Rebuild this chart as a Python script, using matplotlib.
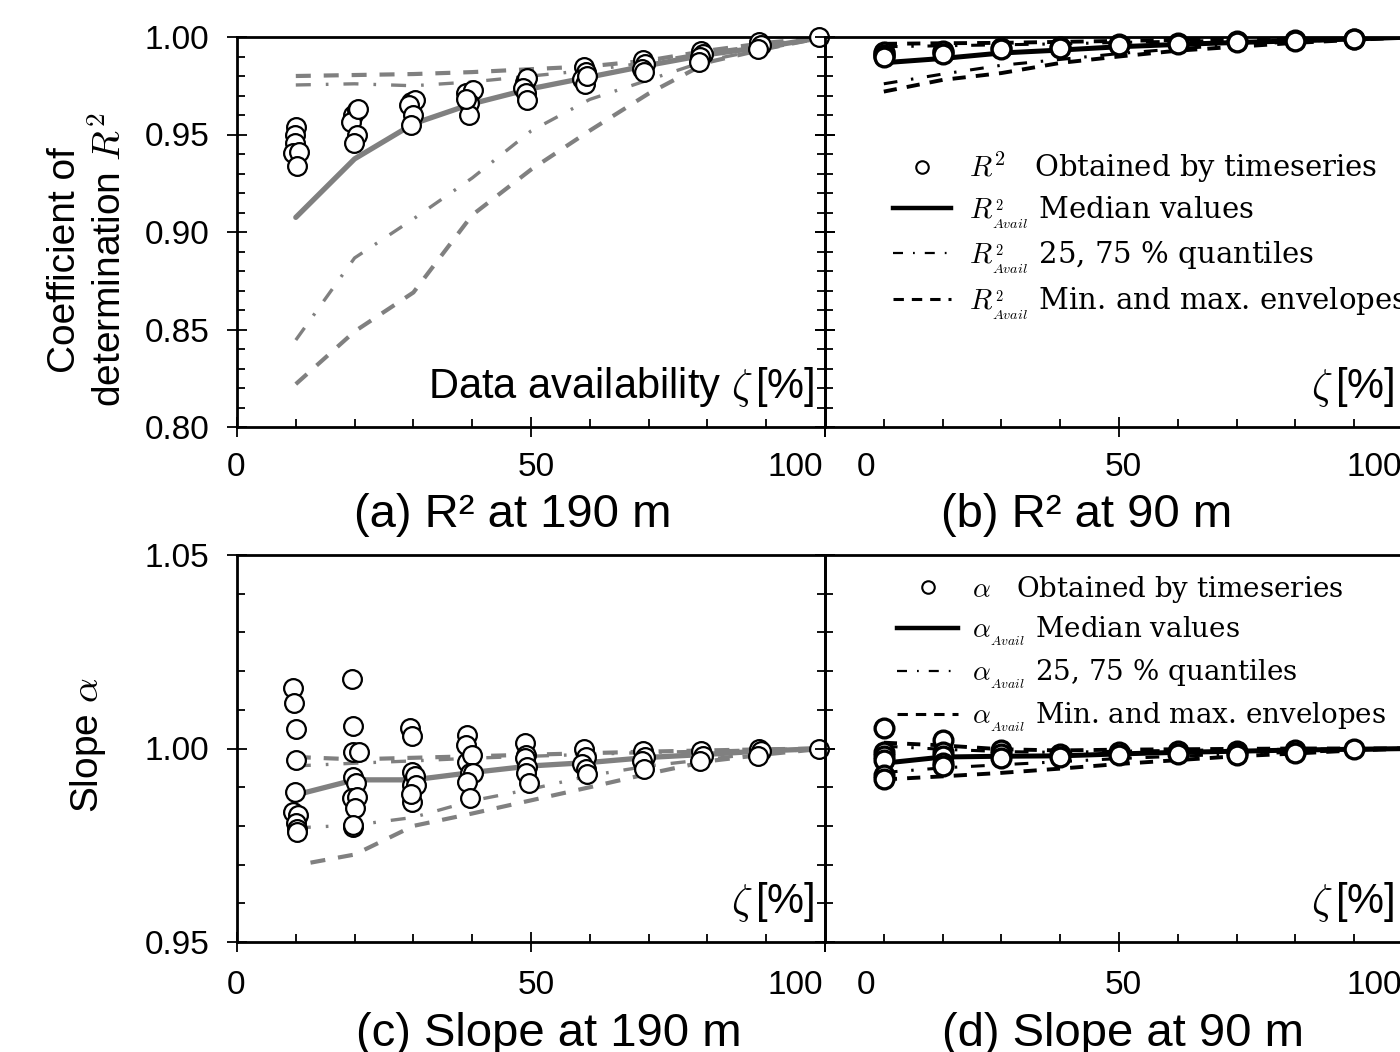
import matplotlib
matplotlib.use('Agg')
import matplotlib.pyplot as plt
from matplotlib.lines import Line2D
from matplotlib.ticker import MultipleLocator, FormatStrFormatter

plt.rcParams['font.family'] = ['Liberation Sans', 'DejaVu Sans']
plt.rcParams['mathtext.fontset'] = 'cm'

# ---------------- data ----------------
zeta = [10, 20, 30, 40, 50, 60, 70, 80, 90, 100]
x_ticklabels = ['0', '50', '100']

# (a) R2 at 190 m -- individual timeseries results
a_ts_x = [10.0, 9.8, 9.9, 9.5, 10.6, 10.2,
          19.8, 20.4, 19.4, 20.4, 19.9, 20.6,
          29.6, 30.2, 29.2, 29.9, 29.6,
          39.0, 40.2, 39.4, 39.5, 38.9,
          49.0, 49.4, 48.7, 49.2, 49.4,
          59.0, 59.4, 58.7, 59.2, 59.5,
          69.0, 69.4, 68.8, 69.2,
          78.9, 79.3, 78.7, 78.6,
          88.8, 89.1, 88.6,
          99.0]
a_ts_y = [0.9538, 0.9497, 0.9456, 0.9405, 0.9410, 0.9338,
          0.9600, 0.9626, 0.9564, 0.9497, 0.9456, 0.9630,
          0.9667, 0.9677, 0.9650, 0.9600, 0.9549,
          0.9713, 0.9728, 0.9660, 0.9600, 0.9680,
          0.9769, 0.9790, 0.9738, 0.9713, 0.9677,
          0.9846, 0.9820, 0.9786, 0.9760, 0.9800,
          0.9880, 0.9860, 0.9837, 0.9820,
          0.9930, 0.9914, 0.9897, 0.9870,
          0.9974, 0.9957, 0.9940,
          1.0000]
a_median = [0.9075, 0.9375, 0.9555, 0.9658, 0.9735, 0.9795, 0.9855, 0.9910, 0.9950, 1.0]
a_q25 = [0.8446, 0.8867, 0.9067, 0.9277, 0.9518, 0.9680, 0.9780, 0.9880, 0.9940, 1.0]
a_q75 = [0.9754, 0.9760, 0.9750, 0.9770, 0.9800, 0.9830, 0.9870, 0.9920, 0.9960, 1.0]
a_min = [0.8220, 0.8490, 0.8690, 0.9087, 0.9320, 0.9520, 0.9710, 0.9870, 0.9940, 1.0]
a_max = [0.9800, 0.9805, 0.9810, 0.9820, 0.9835, 0.9850, 0.9880, 0.9930, 0.9970, 1.0]

# (b) R2 at 90 m
b_ts_x = [10, 10, 10, 10, 10, 20, 20, 20, 30, 30, 40, 40, 50, 50,
          60, 60, 70, 70, 80, 80, 90, 90, 100]
b_ts_y = [0.9918, 0.9905, 0.9925, 0.9910, 0.9895, 0.9923, 0.9930, 0.9915,
          0.9945, 0.9938, 0.9950, 0.9945, 0.9965, 0.9960, 0.9970, 0.9966,
          0.9978, 0.9974, 0.9985, 0.9982, 0.9992, 0.9990, 1.0]
b_median = [0.9868, 0.9890, 0.9918, 0.9933, 0.9950, 0.9962, 0.9972, 0.9980, 0.9990, 1.0]
b_q25 = [0.9760, 0.9810, 0.9855, 0.9885, 0.9915, 0.9940, 0.9960, 0.9975, 0.9990, 1.0]
b_q75 = [0.9950, 0.9955, 0.9960, 0.9965, 0.9972, 0.9978, 0.9984, 0.9990, 0.9995, 1.0]
b_min = [0.9720, 0.9780, 0.9815, 0.9867, 0.9900, 0.9930, 0.9950, 0.9970, 0.9985, 1.0]
b_max = [0.9965, 0.9968, 0.9970, 0.9975, 0.9980, 0.9985, 0.9990, 0.9994, 0.9997, 1.0]

# (c) Slope at 190 m
c_ts_x = [9.6, 9.7, 10.0, 10.0, 9.9, 9.5, 10.3, 10.1, 10.2, 10.2,
          19.6, 19.8, 19.8, 20.7, 19.8, 20.3, 19.6, 20.4, 20.1, 19.7, 19.7,
          29.5, 29.7, 29.7, 29.7, 30.3, 29.7, 30.4, 29.6,
          39.2, 38.9, 39.2, 39.9, 39.6, 40.2, 39.2, 39.6,
          48.9, 49.2, 48.9, 49.4, 49.2, 49.7,
          59.0, 59.3, 58.7, 59.4, 59.6,
          69.0, 69.4, 68.8, 69.2,
          78.9, 79.3, 78.7,
          88.8, 89.1, 88.6,
          99.0]
c_ts_y = [1.0157, 1.0117, 1.0050, 0.9970, 0.9888, 0.9836, 0.9828, 0.9807, 0.9792, 0.9784,
          1.0180, 1.0058, 0.9991, 0.9990, 0.9926, 0.9910, 0.9872, 0.9875, 0.9846, 0.9797, 0.9803,
          1.0054, 1.0033, 0.9940, 0.9906, 0.9930, 0.9862, 0.9906, 0.9882,
          1.0035, 1.0009, 0.9965, 0.9983, 0.9936, 0.9936, 0.9914, 0.9872,
          1.0014, 0.9983, 0.9975, 0.9952, 0.9936, 0.9910,
          0.9998, 0.9977, 0.9960, 0.9947, 0.9934,
          0.9994, 0.9977, 0.9968, 0.9947,
          0.9994, 0.9981, 0.9968,
          1.0000, 0.9994, 0.9981,
          1.0000]
c_median = [0.9880, 0.9919, 0.9919, 0.9938, 0.9955, 0.9964, 0.9977, 0.9985, 0.9994, 1.0]
c_q25 = [0.9795, 0.9802, 0.9822, 0.9865, 0.9895, 0.9930, 0.9955, 0.9972, 0.9990, 1.0]
c_q75 = [0.9955, 0.9962, 0.9968, 0.9975, 0.9980, 0.9985, 0.9990, 0.9993, 0.9997, 1.0]
c_min_x = [12.5, 20, 30, 40, 50, 60, 70, 80, 90, 100]
c_min = [0.9705, 0.9726, 0.9800, 0.9832, 0.9866, 0.9900, 0.9935, 0.9967, 0.9985, 1.0]
c_max = [0.9978, 0.9972, 0.9976, 0.9980, 0.9984, 0.9988, 0.9992, 0.9995, 0.9998, 1.0]

# (d) Slope at 90 m
d_ts_x = [10, 10, 10, 10, 10, 10, 20, 20, 20, 20, 20, 30, 30, 30,
          40, 40, 50, 50, 60, 60, 70, 70, 70, 80, 80, 90, 100]
d_ts_y = [1.0053, 0.9991, 0.9980, 0.9970, 0.9932, 0.9920,
          1.0022, 0.9991, 0.9980, 0.9963, 0.9955,
          0.9996, 0.9985, 0.9975, 0.9985, 0.9978, 0.9991, 0.9982,
          0.9993, 0.9985, 0.9994, 0.9988, 0.9982, 0.9997, 0.9988, 0.9998, 1.0]
d_median = [0.9962, 0.9978, 0.9980, 0.9981, 0.9986, 0.9990, 0.9993, 0.9996, 0.9998, 1.0]
d_q25 = [0.9938, 0.9950, 0.9958, 0.9966, 0.9974, 0.9980, 0.9986, 0.9990, 0.9995, 1.0]
d_q75 = [1.0006, 0.9998, 0.9992, 0.9990, 0.9993, 0.9995, 0.9997, 0.9998, 0.9999, 1.0]
d_min = [0.9920, 0.9928, 0.9937, 0.9948, 0.9960, 0.9970, 0.9980, 0.9987, 0.9995, 1.0]
d_max = [1.0015, 1.0008, 0.9998, 0.9995, 0.9997, 0.9998, 0.9999, 1.0000, 1.0000, 1.0]

# ---------------- figure ----------------
W, H = 1400, 1052
fig = plt.figure(figsize=(14, 10.52), dpi=100)


def fx(px):
    return px / W


def fy(py):
    return 1 - py / H


def make_ax(left_px, top_px, bottom_px, ylim, ymaj, ymin_, ylabels):
    ax = fig.add_axes([fx(left_px), fy(bottom_px), 588 / W, (bottom_px - top_px) / H])
    ax.set_facecolor('none')
    ax.set_xlim(0, 100)
    ax.set_ylim(*ylim)
    ax.xaxis.set_major_locator(MultipleLocator(50))
    ax.xaxis.set_minor_locator(MultipleLocator(10))
    ax.yaxis.set_major_locator(MultipleLocator(ymaj))
    ax.yaxis.set_minor_locator(MultipleLocator(ymin_))
    ax.yaxis.set_major_formatter(FormatStrFormatter('%.2f'))
    ax.tick_params(axis='x', which='major', direction='inout', length=14, width=1.3,
                   top=False, bottom=True, labelbottom=False)
    ax.tick_params(axis='x', which='minor', direction='in', length=6, width=1.3,
                   top=False, bottom=True)
    ax.tick_params(axis='y', which='major', direction='inout', length=14, width=1.3,
                   left=True, right=True, labelleft=ylabels, labelsize=24, pad=13)
    ax.tick_params(axis='y', which='minor', direction='in', length=6, width=1.3,
                   left=True, right=True)
    for s in ax.spines.values():
        s.set_linewidth(2.0)
    return ax


ax_a = make_ax(237, 37, 427, (0.80, 1.00), 0.05, 0.01, True)
ax_b = make_ax(825, 37, 427, (0.80, 1.00), 0.05, 0.01, False)
ax_c = make_ax(237, 555, 942, (0.95, 1.05), 0.05, 0.01, True)
ax_d = make_ax(825, 555, 942, (0.95, 1.05), 0.05, 0.01, False)

gray = '#808080'
MED_G = dict(color=gray, lw=3.8, solid_capstyle='round', zorder=2)
Q_G = dict(color=gray, lw=2.4, ls=(0, (4.5, 4.5, 0.8, 4.5)), zorder=2)
MM_G = dict(color=gray, lw=3.0, ls=(0, (3.6, 3.1)), zorder=2)
MED_K = dict(color='black', lw=3.6, solid_capstyle='round', zorder=2)
Q_K = dict(color='black', lw=2.2, ls=(0, (4.5, 4.5, 0.8, 4.5)), zorder=2)
MM_K = dict(color='black', lw=2.8, ls=(0, (3.4, 2.6)), zorder=2)
PT = dict(ls='none', marker='o', ms=13.5, mfc='white', mec='black', mew=1.6,
          clip_on=False, zorder=5)
PT_K = dict(ls='none', marker='o', ms=13.5, mfc='white', mec='black', mew=2.4,
            clip_on=False, zorder=5)

# (a)
ax_a.plot(zeta, a_min, **MM_G)
ax_a.plot(zeta, a_max, **MM_G)
ax_a.plot(zeta, a_q25, **Q_G)
ax_a.plot(zeta, a_q75, **Q_G)
ax_a.plot(zeta, a_median, **MED_G)
ax_a.plot(a_ts_x, a_ts_y, **PT)

# (b)
ax_b.plot(zeta, b_min, **MM_K)
ax_b.plot(zeta, b_max, **MM_K)
ax_b.plot(zeta, b_q25, **Q_K)
ax_b.plot(zeta, b_q75, **Q_K)
ax_b.plot(zeta, b_median, **MED_K)
ax_b.plot(b_ts_x, b_ts_y, **PT_K)

# (c)
ax_c.plot(c_min_x, c_min, **MM_G)
ax_c.plot(zeta, c_max, **MM_G)
ax_c.plot(zeta, c_q25, **Q_G)
ax_c.plot(zeta, c_q75, **Q_G)
ax_c.plot(zeta, c_median, **MED_G)
ax_c.plot(c_ts_x, c_ts_y, **PT)

# (d)
ax_d.plot(zeta, d_min, **MM_K)
ax_d.plot(zeta, d_max, **MM_K)
ax_d.plot(zeta, d_q25, **Q_K)
ax_d.plot(zeta, d_q75, **Q_K)
ax_d.plot(zeta, d_median, **MED_K)
ax_d.plot(d_ts_x, d_ts_y, **PT_K)

# x tick labels (placed individually as in the reference)
for xs, yrow in (([236, 536, 795], 468), ([866, 1123, 1374], 468),
                 ([236, 536, 795], 985), ([866, 1123, 1374], 985)):
    for xp, lab in zip(xs, x_ticklabels):
        fig.text(fx(xp), fy(yrow), lab, fontsize=24, ha='center', va='center')

# axis captions inside panels
ax_a.text(0.983, 0.075, r'Data availability $\zeta\,$[%]', transform=ax_a.transAxes,
          ha='right', va='baseline', fontsize=30)
ax_b.text(968 / 1000, 0.075, r'$\zeta\,$[%]', transform=ax_b.transAxes,
          ha='right', va='baseline', fontsize=30)
ax_c.text(0.983, 0.075, r'$\zeta\,$[%]', transform=ax_c.transAxes,
          ha='right', va='baseline', fontsize=30)
ax_d.text(968 / 1000, 0.075, r'$\zeta\,$[%]', transform=ax_d.transAxes,
          ha='right', va='baseline', fontsize=30)

# y labels
fig.text(fx(88), fy(260), 'Coefficient of\ndetermination $R^2$', rotation=90,
         ha='center', va='center', fontsize=28, multialignment='center', linespacing=1.25)
fig.text(fx(88), fy(745), r'Slope $\alpha$', rotation=90, ha='center', va='center', fontsize=28)

# panel titles
fig.text(fx(513), fy(527), '(a) R\u00b2 at 190 m', ha='center', va='baseline', fontsize=34)
fig.text(fx(1087), fy(527), '(b) R\u00b2 at 90 m', ha='center', va='baseline', fontsize=34)
fig.text(fx(549), fy(1046), '(c) Slope at 190 m', ha='center', va='baseline', fontsize=34)
fig.text(fx(1123), fy(1046), '(d) Slope at 90 m', ha='center', va='baseline', fontsize=34)

# legends
h_pt = Line2D([], [], ls='none', marker='o', ms=9, mfc='white', mec='black', mew=1.5)
h_med = Line2D([], [], color='black', lw=3.2)
h_q = Line2D([], [], color='black', lw=1.6, ls=(0, (4.5, 4.5, 0.8, 4.5)))
h_mm = Line2D([], [], color='black', lw=2.2, ls=(0, (3.4, 2.6)))

labels_b = [r'$R^2$   Obtained by timeseries',
            r'$R^{_2}_{_{Avail}}$ Median values',
            r'$R^{_2}_{_{Avail}}$ 25, 75 % quantiles',
            r'$R^{_2}_{_{Avail}}$ Min. and max. envelopes']
labels_d = [r'$\alpha$   Obtained by timeseries',
            r'$\alpha_{_{Avail}}$ Median values',
            r'$\alpha_{_{Avail}}$ 25, 75 % quantiles',
            r'$\alpha_{_{Avail}}$ Min. and max. envelopes']
fig.legend([h_pt, h_med, h_q, h_mm], labels_b, loc='upper left',
           bbox_to_anchor=(fx(893), fy(150)), frameon=False,
           prop={'family': ['DejaVu Serif'], 'size': 21},
           handlelength=2.0, handletextpad=0.6, labelspacing=0.3, borderpad=0,
           borderaxespad=0)
fig.legend([h_pt, h_med, h_q, h_mm], labels_d, loc='upper left',
           bbox_to_anchor=(fx(897), fy(574)), frameon=False,
           prop={'family': ['DejaVu Serif'], 'size': 20},
           handlelength=2.2, handletextpad=0.5, labelspacing=0.36, borderpad=0,
           borderaxespad=0)

fig.savefig('out.png', dpi=100)
